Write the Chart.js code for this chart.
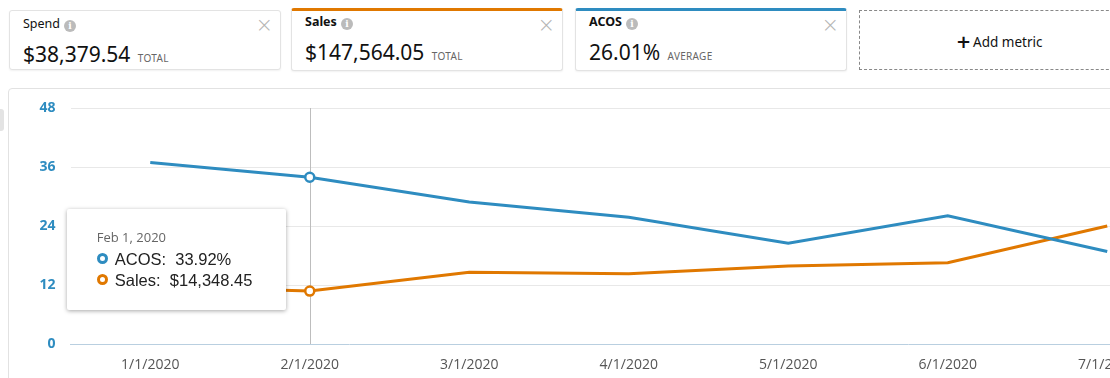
<!DOCTYPE html>
<html>
<head>
<meta charset="utf-8">
<script src="https://cdn.jsdelivr.net/npm/chart.js@4"></script>
<style>
  html, body { margin: 0; padding: 0; background: #fff; }
  body { width: 1110px; height: 378px; overflow: hidden; position: relative; font-family: "Noto Sans", "Open Sans", sans-serif; color: #111; }
  .card { position: absolute; top: 10px; height: 60px; width: 272px; background: #fff; border: 1px solid #e3e3e3; border-radius: 3px; box-shadow: 0 1px 2px rgba(0,0,0,0.06); box-sizing: border-box; }
  .card.sel { top: 8px; height: 63px; border-top-width: 3px; }
  .card .ttl { position: absolute; left: 13px; top: 4px; font-size: 12.5px; color: #111; }
  .card.sel .ttl { font-weight: bold; top: 2px; }
  .card .info { display: inline-block; width: 12px; height: 12px; border-radius: 50%; background: #bbb; color: #fff; font-size: 9px; line-height: 12px; text-align: center; font-weight: bold; vertical-align: -1px; margin-left: 4px; font-family: "DejaVu Serif", serif; }
  .card .x { position: absolute; right: 7px; top: 2px; font-size: 21px; color: #b5b5b5; font-weight: 300; font-family: "DejaVu Sans", sans-serif; }
  .card .val { position: absolute; left: 13px; top: 29px; font-size: 21px; color: #111; white-space: nowrap; }
  .card .unit { font-size: 10px; color: #666; letter-spacing: 0.3px; margin-left: 2px; }
  .card.sel .val { top: 27px; }
  .add { position: absolute; left: 859px; top: 10px; width: 270px; height: 60px; border: 1px dashed #888; box-sizing: border-box; }
  .add span { position: absolute; left: 96px; top: 20px; font-size: 13.5px; color: #111; }
  .add b { font-size: 18px; margin-right: 2px; font-family: "DejaVu Sans", sans-serif; vertical-align: -1px; }
  .panel { position: absolute; left: 8px; top: 88px; width: 1140px; height: 320px; border: 1px solid #e2e2e2; border-radius: 4px; box-sizing: border-box; }
  .handle { position: absolute; left: -3px; top: 109px; width: 7px; height: 22px; background: #e3e3e3; border-radius: 3px; }
  #chart { position: absolute; left: 0; top: 0; }
  #tip { position: absolute; top: 209px; width: 219px; height: 101px; background: #fff; border-radius: 2px; box-shadow: 0 1px 4px rgba(0,0,0,0.35); box-sizing: border-box; padding: 19px 0 0 30px; font-family: "Liberation Sans", Arial, sans-serif; }
  #tip .t { font-size: 13px; color: #666; margin-bottom: 3px; font-family: "Open Sans", sans-serif; }
  #tip .r { font-size: 16.5px; color: #222; height: 21px; line-height: 21px; white-space: nowrap; }
  #tip .dot { display: inline-block; width: 5px; height: 5px; border-radius: 50%; border: 3px solid; background: #fff; margin-right: 7px; vertical-align: 1px; }
</style>
</head>
<body>
<div class="card" style="left:9px">
  <div class="ttl">Spend<span class="info">i</span></div><div class="x">×</div>
  <div class="val">$38,379.54 <span class="unit">TOTAL</span></div>
</div>
<div class="card sel" style="left:291px; border-top-color:#e07800">
  <div class="ttl">Sales<span class="info">i</span></div><div class="x">×</div>
  <div class="val">$147,564.05 <span class="unit">TOTAL</span></div>
</div>
<div class="card sel" style="left:575px; border-top-color:#2e8cc0">
  <div class="ttl">ACOS<span class="info">i</span></div><div class="x">×</div>
  <div class="val">26.01% <span class="unit">AVERAGE</span></div>
</div>
<div class="add"><span><b>+</b>Add metric</span></div>
<div class="panel"></div>
<div class="handle"></div>
<canvas id="chart" width="1190" height="378"></canvas>
<div id="tip"></div>
<script>
const months = ['1/1/2020', '2/1/2020', '3/1/2020', '4/1/2020', '5/1/2020', '6/1/2020', '7/1/2020'];
const acos = [36.9, 33.92, 28.9, 25.8, 20.5, 26.1, 18.8];
const sales = [15600, 14348.45, 19440, 19060, 21150, 22050, 32000];
const acosTicks = [0, 12, 24, 36, 48];
const monthNames = ['Jan', 'Feb', 'Mar', 'Apr', 'May', 'Jun', 'Jul', 'Aug', 'Sep', 'Oct', 'Nov', 'Dec'];
const activeIdx = 1;

const BLUE = '#2e8cc0', ORANGE = '#e07800';

const pointR = ctx => ctx.dataIndex === activeIdx ? 4.5 : 0;

// vertical hover line, drawn under the lines so the marker covers it
const hoverLine = {
  id: 'hoverLine',
  beforeDatasetsDraw(chart){
    const x = chart.getDatasetMeta(0).data[activeIdx].x;
    const a = chart.chartArea, c = chart.ctx;
    c.save();
    c.strokeStyle = '#bdbdbd';
    c.lineWidth = 1;
    c.beginPath();
    c.moveTo(Math.round(x) + 0.5, a.top);
    c.lineTo(Math.round(x) + 0.5, a.bottom);
    c.stroke();
    c.restore();
  }
};

const chart = new Chart(document.getElementById('chart').getContext('2d'), {
  type: 'line',
  data: {
    labels: months,
    datasets: [
      { label: 'ACOS', data: acos, yAxisID: 'y', borderColor: BLUE, borderWidth: 3, tension: 0,
        pointRadius: pointR, pointBackgroundColor: '#fff', pointBorderColor: BLUE, pointBorderWidth: 2.5 },
      { label: 'Sales', data: sales, yAxisID: 'y1', borderColor: ORANGE, borderWidth: 3, tension: 0,
        pointRadius: pointR, pointBackgroundColor: '#fff', pointBorderColor: ORANGE, pointBorderWidth: 2.5 }
    ]
  },
  options: {
    responsive: false,
    animation: false,
    events: [],
    layout: { padding: { top: 108, left: 0, right: 3, bottom: 0 } },
    plugins: { legend: { display: false }, tooltip: { enabled: false } },
    scales: {
      x: {
        offset: true,
        grid: { display: false },
        border: { display: true, color: '#b9cfe0', width: 1 },
        ticks: { color: '#555', font: { family: 'Open Sans', size: 14 }, padding: 5, maxRotation: 0, autoSkip: false },
        afterFit(s){ s.height = 34; }
      },
      y: {
        position: 'left',
        min: acosTicks[0], max: acosTicks[acosTicks.length - 1],
        afterBuildTicks(s){ s.ticks = acosTicks.map(v => ({ value: v })); },
        grid: { color: c => c.tick && c.tick.value === 0 ? 'rgba(0,0,0,0)' : '#e8e8e8', drawTicks: false },
        border: { display: false },
        ticks: { color: BLUE, font: { family: 'Open Sans', size: 14, weight: 'bold' }, padding: 15 },
        afterFit(s){ s.width = 70.5; }
      },
      y1: { display: false, min: 0, max: 64000 }
    }
  },
  plugins: [hoverLine]
});

// tooltip box, filled from the same arrays
const [m, d, yr] = months[activeIdx].split('/');
const tip = document.getElementById('tip');
const fmtMoney = v => '$' + v.toLocaleString('en-US', { minimumFractionDigits: 2, maximumFractionDigits: 2 });
tip.innerHTML =
  `<div class="t">${monthNames[m - 1]} ${d}, ${yr}</div>` +
  `<div class="r"><span class="dot" style="border-color:${BLUE}"></span>ACOS:&nbsp; ${acos[activeIdx].toFixed(2)}%</div>` +
  `<div class="r"><span class="dot" style="border-color:${ORANGE}"></span>Sales:&nbsp; ${fmtMoney(sales[activeIdx])}</div>`;
const px = chart.getDatasetMeta(0).data[activeIdx].x;
tip.style.left = (px - 24 - 219) + 'px';
</script>
</body>
</html>
